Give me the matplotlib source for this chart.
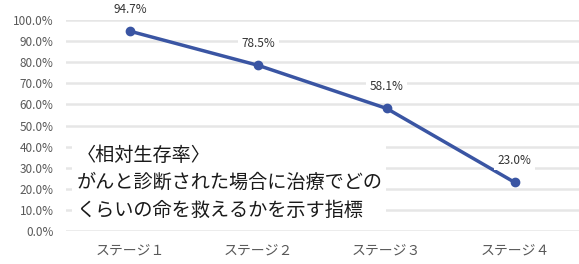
import matplotlib
matplotlib.use("Agg")
import matplotlib.pyplot as plt
from matplotlib.ticker import PercentFormatter

plt.rcParams['font.family'] = ['Noto Sans CJK JP', 'DejaVu Sans']

stages = ["ステージ１", "ステージ２", "ステージ３", "ステージ４"]
rates = [94.7, 78.5, 58.1, 23.0]
note = "〈相対生存率〉\nがんと診断された場合に治療でどの\nくらいの命を救えるかを示す指標"

fig = plt.figure(figsize=(5.79, 2.64), dpi=100)
ax = fig.add_axes([0.114, 0.125, 0.886, 0.799])

x = range(len(stages))
ax.plot(x, rates, color="#3a55a3", lw=2.5, marker="o", ms=6, zorder=3, clip_on=False)
for i, v in enumerate(rates):
    ax.annotate(f"{v:.1f}%", (i, v), xytext=(0, 16), textcoords="offset points",
                ha="center", va="center", fontsize=8.5, color="#333333",
                bbox=dict(boxstyle="square,pad=0.3", fc="white", ec="none"), zorder=4)

ax.set_xlim(-0.5, 3.5)
ax.set_ylim(0, 100)
ax.set_yticks(range(0, 101, 10))
ax.yaxis.set_major_formatter(PercentFormatter(decimals=1))
ax.set_xticks(list(x))
ax.set_xticklabels(stages)
ax.grid(axis="y", color="#e6e6e6", lw=1.8)
ax.set_axisbelow(True)
for s in ax.spines.values():
    s.set_visible(False)
ax.tick_params(length=0, labelsize=8.5, colors="#595959")
ax.tick_params(axis="y", pad=9)
ax.tick_params(axis="x", pad=9, labelsize=10)

ax.text(0.02, 0.41, note, transform=ax.transAxes, fontsize=13.8, color="#1a1a1a",
        va="top", ha="left", linespacing=1.42,
        bbox=dict(boxstyle="square,pad=0.2", fc="white", ec="none"), zorder=2)

fig.savefig("out.png", dpi=100)
